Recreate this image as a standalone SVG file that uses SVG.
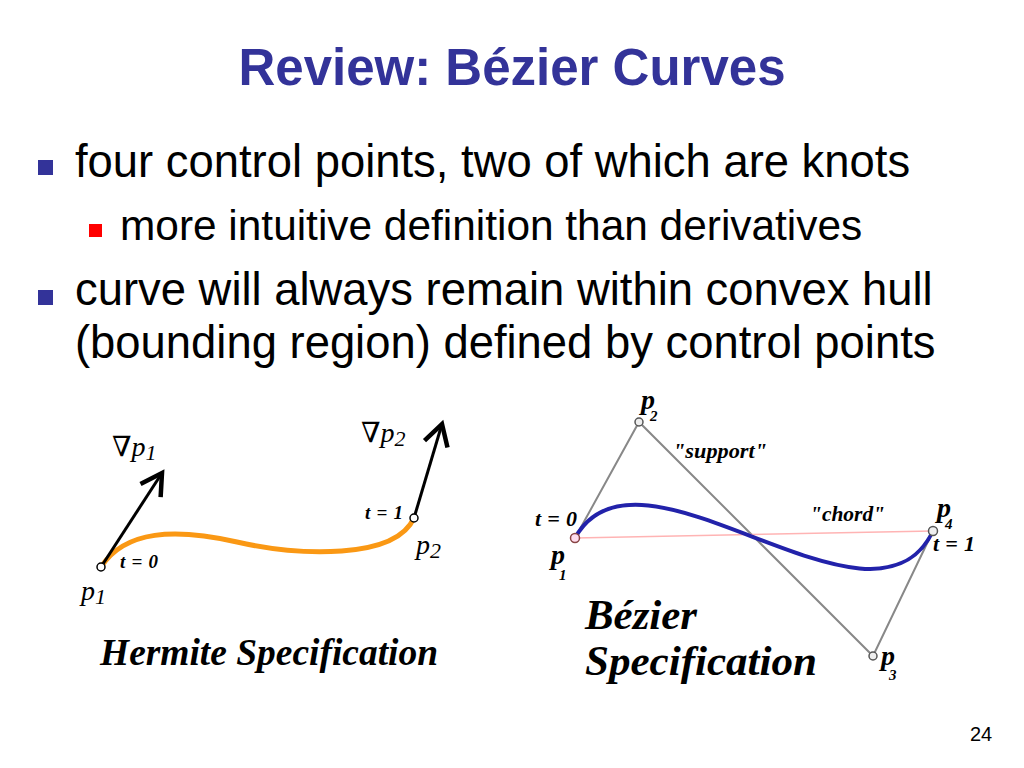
<svg xmlns="http://www.w3.org/2000/svg" width="1024" height="768" viewBox="0 0 1024 768">
<defs>
<style>
.title{font-family:"Liberation Sans",Arial,sans-serif;font-weight:bold;fill:#333399;font-size:51px}
.body{font-family:"Liberation Sans",Arial,sans-serif;fill:#000;font-size:45.4px}
.sub{font-family:"Liberation Sans",Arial,sans-serif;fill:#000;font-size:42.4px}
.math{font-family:"Liberation Serif","DejaVu Serif",serif;fill:#000;font-size:28px}
.it{font-style:italic}
.bi{font-family:"Liberation Serif","Times New Roman",serif;font-weight:bold;font-style:italic;fill:#000}
.pt{fill:#fff;stroke:#000;stroke-width:1.5}
.gpt{fill:#eee;stroke:#555;stroke-width:1.5}
.hull{stroke:#888;stroke-width:2;fill:none}
</style>
<marker id="vhead" markerUnits="userSpaceOnUse" markerWidth="30" markerHeight="30" refX="0" refY="0" viewBox="-16 -10 20 20" orient="auto" overflow="visible">
<path d="M -14 -8 L 0 0 L -14 8" fill="none" stroke="#000" stroke-width="3"/>
</marker>
</defs>
<rect width="1024" height="768" fill="#fff"/>

<g id="title">
<text class="title" x="512" y="85" text-anchor="middle">Review: Bézier Curves</text>
</g>

<g id="bullets">
<rect x="38" y="160" width="15" height="15" fill="#333399"/>
<text class="body" x="75" y="177">four control points, two of which are knots</text>
<rect x="89" y="224" width="13" height="13" fill="#ff0000"/>
<text class="sub" x="120" y="240">more intuitive definition than derivatives</text>
<rect x="38" y="290" width="15" height="15" fill="#333399"/>
<text class="body" x="75" y="305">curve will always remain within convex hull</text>
<text class="body" x="75" y="358">(bounding region) defined by control points</text>
</g>

<g id="hermite">
<path d="M101,567 C125,530 175,528 237,542 S395,560 414,518" fill="none" stroke="#FA9814" stroke-width="5"/>
<g id="connectors-hermite">
<line x1="101" y1="567" x2="162" y2="473" stroke="#000" stroke-width="3" marker-end="url(#vhead)"/>
<line x1="414" y1="518" x2="442" y2="424" stroke="#000" stroke-width="3" marker-end="url(#vhead)"/>
</g>
<circle class="pt" cx="101" cy="567" r="4"/>
<circle class="pt" cx="414" cy="518" r="4"/>
<text class="math" x="112" y="456">∇<tspan class="it">p</tspan><tspan class="it" font-size="22" dy="4">1</tspan></text>
<text class="math" x="361" y="442">∇<tspan class="it">p</tspan><tspan class="it" font-size="22" dy="4">2</tspan></text>
<text class="math" x="81" y="600"><tspan class="it">p</tspan><tspan class="it" font-size="22" dy="4">1</tspan></text>
<text class="math" x="416" y="554"><tspan class="it">p</tspan><tspan class="it" font-size="22" dy="4">2</tspan></text>
<text class="bi" x="120" y="568" font-size="19" textLength="38" lengthAdjust="spacing">t = 0</text>
<text class="bi" x="365" y="519" font-size="19" textLength="38" lengthAdjust="spacing">t = 1</text>
<text class="bi" x="100" y="665" font-size="38" textLength="338" lengthAdjust="spacingAndGlyphs">Hermite Specification</text>
</g>

<g id="bezier">
<g id="connectors-bezier">
<polyline class="hull" points="575,538 639,422 873,656 933,531"/>
<line x1="575" y1="538" x2="933" y2="531" stroke="#FFB4B4" stroke-width="1.5"/>
</g>
<path d="M575,538 C639,422 873,656 933,531" fill="none" stroke="#2222AA" stroke-width="4"/>
<circle cx="575" cy="538" r="4.5" fill="#fde" stroke="#844" stroke-width="1.5"/>
<circle class="gpt" cx="639" cy="422" r="4"/>
<circle class="gpt" cx="873" cy="656" r="4"/>
<circle class="gpt" cx="933" cy="531" r="4.5"/>
<text class="bi" x="641" y="409" font-size="28">p<tspan font-size="15" dx="-5" dy="12">2</tspan></text>
<text class="bi" x="551" y="564" font-size="28">p<tspan font-size="15" dx="-6" dy="16">1</tspan></text>
<text class="bi" x="937" y="517" font-size="28">p<tspan font-size="15" dx="-6" dy="12">4</tspan></text>
<text class="bi" x="881" y="665" font-size="28">p<tspan font-size="15" dx="-6" dy="15">3</tspan></text>
<text class="bi" x="673" y="458" font-size="21" textLength="94" lengthAdjust="spacingAndGlyphs">"support"</text>
<text class="bi" x="810" y="521" font-size="21" textLength="75" lengthAdjust="spacingAndGlyphs">"chord"</text>
<text class="bi" x="535" y="526" font-size="22" textLength="42" lengthAdjust="spacing">t = 0</text>
<text class="bi" x="933" y="551" font-size="22" textLength="42" lengthAdjust="spacing">t = 1</text>
<text class="bi" x="585" y="629" font-size="42" textLength="112" lengthAdjust="spacingAndGlyphs">Bézier</text>
<text class="bi" x="585" y="675" font-size="42" textLength="232" lengthAdjust="spacingAndGlyphs">Specification</text>
</g>

<g id="page-number">
<text x="970" y="741" font-family="Liberation Sans,Arial,sans-serif" font-size="20" fill="#000">24</text>
</g>
</svg>
